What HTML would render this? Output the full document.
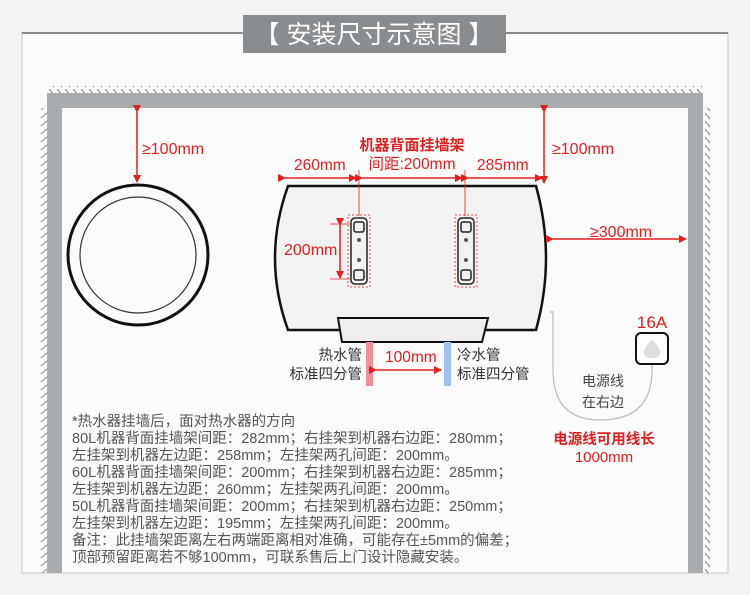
<!DOCTYPE html>
<html><head><meta charset="utf-8"><style>
html,body{margin:0;padding:0;}
body{width:750px;height:595px;background:#f3f3f3;overflow:hidden;position:relative;font-family:"Liberation Sans","Noto Sans CJK SC",sans-serif;}
svg{position:absolute;left:0;top:0;}
.t{font-family:"Liberation Sans","Noto Sans CJK SC",sans-serif;}
</style></head><body>
<svg width="750" height="595" viewBox="0 0 750 595">
<defs>
<pattern id="hx" width="8" height="8" patternUnits="userSpaceOnUse"><line x1="1" y1="1" x2="6" y2="7" stroke="#888" stroke-width="1"/></pattern>
<pattern id="hy" width="8" height="8" patternUnits="userSpaceOnUse"><line x1="7" y1="1" x2="1" y2="6" stroke="#888" stroke-width="1"/></pattern>
<marker id="a" markerWidth="8" markerHeight="8" refX="7" refY="4" orient="auto" markerUnits="userSpaceOnUse"><path d="M0,0 L8,4 L0,8 z" fill="#e02020"/></marker>
</defs>
<rect x="22" y="33" width="706" height="540" fill="#fbfbfb" stroke="#c8c8c8"/>
<line x1="22" y1="33" x2="728" y2="33" stroke="#8a8d90" stroke-width="2"/>
<rect x="243" y="15" width="263" height="38" fill="#8a8d90"/>
<text x="374" y="43" text-anchor="middle" class="t" font-size="25" fill="#fff">【 安装尺寸示意图 】</text>
<rect x="47" y="86" width="656" height="7" fill="url(#hx)"/>
<rect x="40" y="108" width="7" height="465" fill="url(#hy)"/>
<rect x="703" y="108" width="7" height="465" fill="url(#hx)"/>
<rect x="47" y="93" width="656" height="15" fill="#a9acae"/>
<rect x="47" y="93" width="15" height="480" fill="#a9acae"/>
<rect x="688" y="93" width="15" height="480" fill="#a9acae"/>
<circle cx="138" cy="255" r="70" fill="none" stroke="#111" stroke-width="3"/>
<circle cx="138" cy="255" r="58" fill="none" stroke="#333" stroke-width="1.2"/>
<line x1="137" y1="112" x2="137" y2="182" stroke="#e02020" stroke-width="1.5" marker-end="url(#a)" marker-start="url(#a)"/>
<text x="142" y="154" class="t" font-size="16" fill="#e02020">≥100mm</text>
<path d="M288,186 L536,186 Q556,258 536,330 L288,330 Q262,258 288,186 Z" fill="#f2f2f2" stroke="#111" stroke-width="2.5"/>
<path d="M338,318 L488,318 L482,342 L342,342 Z" fill="#eee" stroke="#111" stroke-width="2"/>
<rect x="366" y="342" width="7" height="44" fill="#f0909a"/>
<rect x="444" y="342" width="7" height="44" fill="#9fc3ee"/>
<g fill="none" stroke="#222" stroke-width="1.5">
<rect x="351" y="218" width="16" height="66" rx="4"/>
<rect x="354" y="222" width="10" height="10" rx="2"/><rect x="354" y="270" width="10" height="10" rx="2"/>
<rect x="458" y="218" width="16" height="66" rx="4"/>
<rect x="461" y="222" width="10" height="10" rx="2"/><rect x="461" y="270" width="10" height="10" rx="2"/>
</g>
<g fill="#555"><circle cx="359" cy="240" r="2"/><circle cx="359" cy="260" r="2"/><circle cx="466" cy="240" r="2"/><circle cx="466" cy="260" r="2"/></g>
<g fill="none" stroke="#e02020" stroke-width="0.8" stroke-dasharray="2,2">
<rect x="348" y="215" width="22" height="72"/><rect x="455" y="215" width="22" height="72"/>
</g>
<g stroke="#e02020" stroke-width="1.5">
<line x1="285" y1="178" x2="356" y2="178" marker-end="url(#a)" marker-start="url(#a)"/>
<line x1="362" y1="178" x2="462" y2="178" marker-end="url(#a)" marker-start="url(#a)"/>
<line x1="468" y1="178" x2="542" y2="178" marker-end="url(#a)" marker-start="url(#a)"/>
<line x1="544" y1="112" x2="544" y2="183" marker-end="url(#a)" marker-start="url(#a)"/>
<line x1="553" y1="239" x2="686" y2="239" marker-end="url(#a)" marker-start="url(#a)"/>
<line x1="340" y1="225" x2="340" y2="278" marker-end="url(#a)" marker-start="url(#a)"/>
<line x1="376" y1="370" x2="441" y2="370" marker-end="url(#a)" marker-start="url(#a)"/>
</g>
<g stroke="#e02020" stroke-width="0.8">
<line x1="359" y1="170" x2="359" y2="216"/><line x1="465" y1="170" x2="465" y2="216"/>
<line x1="330" y1="224" x2="350" y2="224"/><line x1="330" y1="279" x2="350" y2="279"/>
</g>
<g class="t" fill="#e02020" font-size="15.5">
<text x="294" y="170">260mm</text>
<text x="412" y="150" text-anchor="middle" font-weight="bold" font-size="15">机器背面挂墙架</text>
<text x="412" y="169" text-anchor="middle">间距:200mm</text>
<text x="477" y="170">285mm</text>
<text x="552" y="154" font-size="16">≥100mm</text>
<text x="590" y="237" font-size="16">≥300mm</text>
<text x="284" y="255" font-size="16">200mm</text>
<text x="385" y="362">100mm</text>
</g>
<g class="t" fill="#333" font-size="14.5">
<text x="362" y="360" text-anchor="end">热水管</text>
<text x="362" y="379" text-anchor="end">标准四分管</text>
<text x="457" y="360">冷水管</text>
<text x="457" y="379">标准四分管</text>
</g>
<path d="M550,312 L553,312 L553,370 Q553,420 600,420 Q652,420 652,370 L652,364" fill="none" stroke="#bbb" stroke-width="1.2"/>
<rect x="636" y="333" width="32" height="31" rx="5" fill="#fff" stroke="#111" stroke-width="2"/>
<path d="M652,340 Q658,344 660,352 Q660,358 652,358 Q644,358 644,352 Q646,344 652,340 Z" fill="#ddd"/>
<text x="652" y="328" text-anchor="middle" class="t" fill="#e02020" font-size="17">16A</text>
<text x="603" y="386" text-anchor="middle" class="t" fill="#444" font-size="14">电源线</text>
<text x="603" y="407" text-anchor="middle" class="t" fill="#444" font-size="14">在右边</text>
<text x="604" y="444" text-anchor="middle" class="t" fill="#e02020" font-size="14.5" font-weight="bold">电源线可用线长</text>
<text x="604" y="462" text-anchor="middle" class="t" fill="#e02020" font-size="15">1000mm</text>
<g class="t" fill="#555" font-size="14.5">
<text x="72" y="426">*热水器挂墙后，面对热水器的方向</text>
<text x="72" y="443">80L机器背面挂墙架间距：282mm；右挂架到机器右边距：280mm；</text>
<text x="72" y="460">左挂架到机器左边距：258mm；左挂架两孔间距：200mm。</text>
<text x="72" y="477">60L机器背面挂墙架间距：200mm；右挂架到机器右边距：285mm；</text>
<text x="72" y="494">左挂架到机器左边距：260mm；左挂架两孔间距：200mm。</text>
<text x="72" y="511">50L机器背面挂墙架间距：200mm；右挂架到机器右边距：250mm；</text>
<text x="72" y="528">左挂架到机器左边距：195mm；左挂架两孔间距：200mm。</text>
<text x="72" y="545">备注：此挂墙架距离左右两端距离相对准确，可能存在±5mm的偏差；</text>
<text x="72" y="562">顶部预留距离若不够100mm，可联系售后上门设计隐藏安装。</text>
</g>
</svg>
</body></html>
